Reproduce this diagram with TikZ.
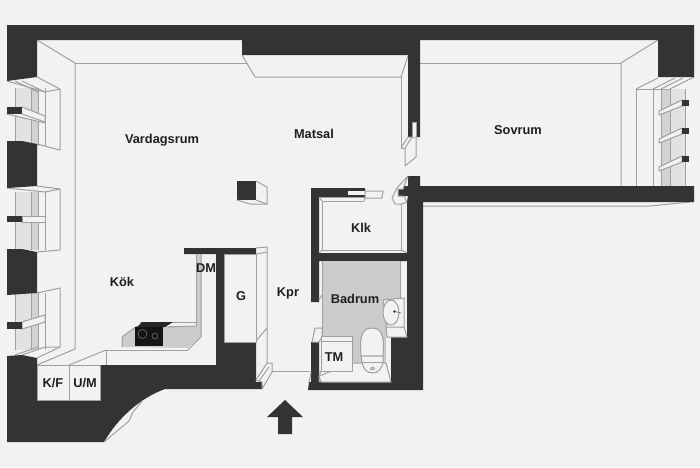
\documentclass[tikz,border=0pt]{standalone}
\usepackage{fontspec}
\setmainfont{Liberation Sans}
\definecolor{wallc}{HTML}{333333}
\definecolor{bgc}{HTML}{F2F2F2}
\definecolor{linec}{HTML}{A0A0A0}
\definecolor{floorc}{HTML}{CBCBCB}
\definecolor{glassa}{HTML}{E2E2E2}
\definecolor{glassb}{HTML}{D2D2D2}
\tikzset{
  wall/.style={fill=wallc,draw=none},
  ln/.style={draw=linec,line width=1pt,line join=round},
  wht/.style={fill=bgc,draw=linec,line width=1pt,line join=round},
  lbl/.style={text=black!88,font=\bfseries\fontsize{12.8}{15}\selectfont,inner sep=0pt},
}
\begin{document}
\begin{tikzpicture}[x=1pt,y=-1pt]
\useasboundingbox (0,0) rectangle (700,467);
\fill[bgc] (0,0) rectangle (700,467);

% ---- ceiling / floor perspective lines
\draw[ln] (37,40) -- (75,63) -- (75,349) -- (37,365);
\draw[ln] (75,63) -- (247,63);
\draw[ln] (242,55) -- (255,77) -- (401,77) -- (408,56);
\draw[ln] (401,77) -- (401,148);
\draw[ln] (658,40) -- (621,63) -- (621,186);
\draw[ln] (420,63) -- (621,63);
\draw[ln] (423,206) -- (650,206) -- (690,202);

% ---- left windows
\foreach \ya/\yb in {88/146, 192/250, 293/350}{
  \fill[glassa] (15,\ya) rectangle (31,\yb);
  \fill[glassb] (31,\ya) rectangle (38,\yb);
  \foreach \xx in {15,31,38,45}{\draw[ln] (\xx,\ya) -- (\xx,\yb);}
}
\draw[ln] (37,77) -- (60,89) -- (60,150) -- (37,144);
\draw[ln] (7,81) -- (45,92) -- (60,89);
\draw[ln] (15,81) -- (38,92);
\draw[ln] (22,81) -- (45,92);
\draw[ln] (37,186) -- (60,189) -- (60,250) -- (37,252);
\draw[ln] (7,188) -- (45,192) -- (60,189);
\draw[ln] (37,293) -- (60,288) -- (60,347) -- (37,358);
\draw[ln] (15,355) -- (38,347);
\draw[ln] (22,355) -- (45,347) -- (60,347);
% shelves
\draw[wht] (7,114) -- (22,107) -- (45,116) -- (45,123) -- cycle;
\draw[ln] (22,114) -- (45,122);
\draw[wht] (22,216) -- (45,216) -- (45,222) -- (22,222) -- cycle;
\draw[wht] (22,322) -- (45,315) -- (45,322) -- (22,329) -- cycle;

% ---- right window
\fill[glassa] (661,89) rectangle (685,186);
\fill[glassb] (661,89) rectangle (670,186);
\foreach \xx in {636,653,661,670,685}{\draw[ln] (\xx,89) -- (\xx,186);}
\draw[ln] (636,89) -- (658,78);
\draw[ln] (636,89) -- (670,89);
\draw[ln] (653,89) -- (675,78);
\draw[ln] (661,89) -- (683,78);
\draw[ln] (670,89) -- (694,77);
\foreach \yy in {100,128,156}{
  \draw[wht] (659,\yy+11) -- (682,\yy) -- (682,\yy+6) -- (659,\yy+15) -- cycle;
  \fill[wallc] (682,\yy) rectangle (689,\yy+6);
}

% ---- walls
\fill[wall] (7,25) -- (694,25) -- (694,77) -- (658,77) -- (658,40) -- (420,40)
  -- (420,137) -- (408,137) -- (408,55) -- (242,55) -- (242,40) -- (37,40)
  -- (37,77) -- (7,81) -- cycle;
\fill[wall] (7,141) -- (22,141) -- (37,144) -- (37,186) -- (7,188) -- cycle;
\fill[wall] (7,249) -- (22,249) -- (37,252) -- (37,293) -- (7,295) -- cycle;
\fill[wall] (7,107) rectangle (22,114);
\fill[wall] (7,216) rectangle (22,222);
\fill[wall] (7,322) rectangle (22,329);
\fill[wall] (7,356) -- (22,355) -- (37,358) -- (37,400) -- (100,400) -- (100,365)
  -- (216,365) -- (216,254) -- (184,254) -- (184,248) -- (256,248) -- (256,254)
  -- (224,254) -- (224,342) -- (256,342) -- (256,382) -- (262,382) -- (262,389)
  -- (165,389) .. controls (140,398) and (118,418) .. (104,442) -- (7,442) -- cycle;
\fill[wall] (408,176) -- (420,176) -- (420,186) -- (694,186) -- (694,202)
  -- (423,202) -- (423,390) -- (308,390) -- (309,382) -- (311,382) -- (311,342)
  -- (319,342) -- (319,382) -- (391,382) -- (391,337) -- (407,337) -- (407,261)
  -- (319,261) -- (319,302) -- (311,302) -- (311,188) -- (365,188) -- (365,197)
  -- (319,197) -- (319,253) -- (407,253) -- (407,202) -- (408,196) -- (398,196)
  -- (398,189) -- (403,189) -- (403,186) -- (408,186) -- cycle;

% ---- door details
\fill[bgc] (412,122) rectangle (416,137);
\draw[ln] (412,122) rectangle (416,137);
\draw[wht] (401,148) -- (408,137) -- (412,137) -- (405,148) -- (405,166) -- (416,157) -- (416,137);
\draw[ln] (401,148) -- (405,148);
\fill[bgc] (348,191) rectangle (365,195);
\draw[wht] (365,191) -- (383,191) -- (382,198) -- (365,198) -- cycle;
\draw[ln] (365,198) -- (364,201);
\draw[wht] (408,176) -- (397,188) -- (392,198) -- (395,204) -- (402,204) -- (407,202) -- (404,196) -- (398,196) -- (398,189) -- (403,189) -- cycle;
\draw[ln] (319,197) -- (365,197);
\draw[ln] (322,250) -- (322,201) -- (364,201);
\draw[ln] (319,197) -- (322,201);
\draw[ln] (401,204) -- (401,250) -- (322,250);
\draw[ln] (319,253) -- (322,250);
\draw[ln] (407,253) -- (401,250);

% ---- pillar
\fill[wall] (237,181) rectangle (256,200);
\draw[ln] (256,181) -- (267,187) -- (267,204) -- (256,200);
\draw[ln] (237,200) -- (250,204) -- (267,204);

% ---- kitchen
\draw[wht] (37,365) rectangle (100,400);
\draw[ln] (69,365) -- (69,400);
\draw[ln] (69,365) -- (106,350);
\draw[ln] (106,350) -- (106,365);
\draw[ln] (106,350) -- (188,350);
\fill[floorc] (122,347) -- (122,337) -- (137,326) -- (196,326) -- (196,254) -- (201,254)
  -- (201,337) -- (188,348) -- cycle;
\draw[ln] (122,347) -- (122,337) -- (137,326);
\draw[ln] (140,322) -- (173,322) -- (196,322);
\draw[ln] (168,327) -- (196,326);
\draw[ln] (196,254) -- (196,326);
\draw[ln] (201,254) -- (201,337) -- (188,350);
\fill[black!85] (137,327) -- (142,322) -- (173,322) -- (165,327) -- cycle;
\fill[black!92] (135,327) rectangle (163,346);
\draw[black!55,line width=0.6pt] (142.5,334) circle (4.5);
\draw[black!55,line width=0.6pt] (155,336) circle (3);

% ---- closet G and corridor
\draw[wht] (224,254) rectangle (256,342);
\draw[ln] (256,248) -- (267,247) -- (267,363);
\draw[ln] (256,254) -- (267,252);
\draw[ln] (256,254) -- (256,342);
\draw[ln] (256,341) -- (267,328);
\draw[wht] (256,380) -- (267,363) -- (272,363) -- (272,372) -- (262,389) -- (262,382) -- cycle;
\draw[ln] (259,381) -- (269,367);
\draw[ln] (272,371) -- (310,371);

% ---- bathroom
\fill[floorc] (322,261) -- (400,261) -- (400,300) -- (386,320) -- (386,363) -- (322,363) -- cycle;
\draw[ln] (322,261) -- (322,337);
\draw[ln] (400,261) -- (400,298);
\draw[ln] (319,300) -- (322,295);
\draw[wht] (312,342) -- (315,328) -- (322,328) -- (322,337) -- (319,342) -- cycle;
\draw[ln] (309,382) -- (311,373);
\draw[wht] (321,382) -- (319,376) -- (352,363) -- (386,363) -- (391,382) -- cycle;
\draw[wht] (321,336) -- (352,336) -- (352,371) -- (321,371) -- cycle;
\draw[ln] (322,341) -- (352,341);
\draw[ln] (319,382) -- (319,376) -- (321,371);
\draw[wht] (387,337) -- (386,326) -- (404,327) -- (407,337) -- cycle;
\draw[wht] (383,300) -- (404,298) -- (404,327) -- (387,327) -- cycle;
\draw[wht] (391,312.5) ellipse (8 and 12.5);
\fill[black!80] (394.5,311.5) circle (1.3);
\draw[black!60,line width=0.7pt] (395,311.5) -- (401,313);
\draw[wht] (361,356) .. controls (360,340) and (360,328) .. (372,328)
  .. controls (384,328) and (384,340) .. (383,356) -- cycle;
\draw[wht] (361,356) -- (383,356) -- (383,362) .. controls (382,369) and (378,373) .. (372.5,373)
  .. controls (367,373) and (363,369) .. (362,362) -- cycle;
\draw[ln] (362,362) -- (383,362);
\draw[ln] (372.5,368.5) ellipse (2 and 1);

% ---- entrance hatch under wall curve
\draw[ln] (143,400) -- (133,412) -- (129,421) -- (104,442);

% ---- arrow
\fill[wallc] (285,400) -- (303,417) -- (292,417) -- (292,434) -- (278,434) -- (278,417) -- (267,417) -- cycle;

% ---- labels
\node[lbl] (vardagsrum) at (162,140) {Vardagsrum};
\node[lbl] (matsal) at (314,134) {Matsal};
\node[lbl] (sovrum) at (518,130) {Sovrum};
\node[lbl] (klk) at (361,228) {Klk};
\node[lbl] (kok) at (122,282) {Kök};
\node[lbl] (dm) at (206,268) {DM};
\node[lbl] (g) at (241,296) {G};
\node[lbl] (kpr) at (288,293) {Kpr};
\node[lbl] (badrum) at (355,299) {Badrum};
\node[lbl] (tm) at (334,357) {TM};
\node[lbl] (kf) at (53,383) {K/F};
\node[lbl] (um) at (85,383) {U/M};
\end{tikzpicture}
\end{document}
